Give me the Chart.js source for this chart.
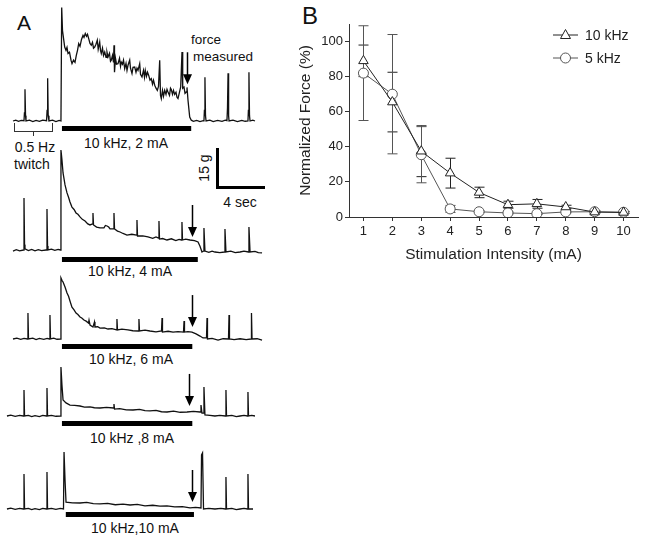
<!DOCTYPE html>
<html>
<head>
<meta charset="utf-8">
<script src="https://cdn.jsdelivr.net/npm/chart.js@4.4.1/dist/chart.umd.min.js"></script>
<style>
body { margin: 0; background: #fff; }
#fig { position: relative; width: 645px; height: 542px; overflow: hidden; font-family: "Liberation Sans", Arial, sans-serif; color: #111; }
#fig canvas { position: absolute; }
.lbl { position: absolute; transform: translate(-50%, -50%); white-space: nowrap; font-size: 14px; }
.left { transform: translate(0, -50%); }
.bar { position: absolute; background: #000; }
</style>
</head>
<body>
<div id="fig">
  <div class="lbl" style="left:24px;top:23px;font-size:21px;">A</div>
  <div class="lbl" style="left:310px;top:16px;font-size:24px;">B</div>

  <div class="lbl left" style="left:191px;top:39px;font-size:13.5px;">force</div>
  <div class="lbl left" style="left:193px;top:56px;font-size:13.5px;">measured</div>

  <div style="position:absolute;left:14px;top:123px;width:37px;height:8px;border:1px solid #333;border-top:none;"></div>
  <div style="position:absolute;left:33px;top:131px;width:1px;height:5px;background:#333;"></div>
  <div class="lbl" style="left:35px;top:147px;">0.5 Hz</div>
  <div class="lbl" style="left:32px;top:164px;">twitch</div>

  <div class="bar" style="left:216px;top:148px;width:3px;height:41px;"></div>
  <div class="bar" style="left:216px;top:186px;width:49px;height:3px;"></div>
  <div class="lbl" style="left:204px;top:168px;transform:translate(-50%,-50%) rotate(-90deg);">15 g</div>
  <div class="lbl" style="left:240px;top:202px;">4 sec</div>

  <div class="lbl" style="left:126px;top:143px;">10 kHz, 2 mA</div>
  <div class="lbl" style="left:130px;top:271px;">10 kHz, 4 mA</div>
  <div class="lbl" style="left:131px;top:359px;">10 kHz, 6 mA</div>
  <div class="lbl" style="left:132px;top:438px;">10 kHz ,8 mA</div>
  <div class="lbl" style="left:135px;top:528px;">10 kHz,10 mA</div>

  <canvas id="chartB" width="355" height="270" style="left:290px;top:0px;"></canvas>
</div>
<script>
// ---- panel B data ----
const intensity = [1, 2, 3, 4, 5, 6, 7, 8, 9, 10];
const yTicks = [0, 20, 40, 60, 80, 100];
const force10k = [89, 65.5, 37.5, 25, 14, 7, 7.5, 5.7, 2.8, 2.6];
const sem10k   = [9, 17, 14.5, 8.5, 3, 2, 2.5, 1, 0.5, 0.5];
const force5k  = [82, 70, 35.5, 4.6, 3.0, 2.3, 1.9, 2.9, 3.0, 2.7];
const sem5k    = [27, 34, 16, 2, 0.5, 0.5, 0.5, 0.5, 0.5, 0.5];

// ---- panel A traces: [time (s), force (g)] ----
const trace2mA = [[0,0],[0.25,0.3],[0.5,-0.1],[0.75,0.2],[1.0,0.1],[1.04,3],[1.09,11.9],[1.14,2],[1.18,0],[1.5,0.3],
  [1.8,-0.2],[2.1,0.2],[2.4,-0.1],[2.7,0.3],[3.05,0.1],[3.1,4],[3.15,16],[3.2,2],[3.27,0],[3.6,0.3],[3.9,-0.2],[4.2,0.2],
  [4.36,0],[4.427,42.6],[4.5,33.9],[4.7,27.75],[4.818,26.5],[4.909,27.6],[5.0,25.3],[5.136,25.8],[5.273,22.8],[5.364,21.5],
  [5.5,22.8],[5.636,22.0],[5.755,24.6],[5.864,26.5],[5.973,29.0],[6.091,28.0],[6.227,30.6],[6.364,32.1],[6.455,31.4],
  [6.573,32.8],[6.682,31.8],[6.773,32.5],[6.882,30.9],[7.0,29.1],[7.118,28.4],[7.227,29.5],[7.318,27.3],[7.427,27.75],
  [7.545,28.8],[7.664,30.3],[7.745,26.9],[7.882,29.6],[7.955,26.5],[8.027,25.3],[8.136,27.3],[8.227,24.6],[8.336,25.9],
  [8.455,23.9],[8.545,25.8],[8.636,24.0],[8.773,25.4],[8.864,22.4],[8.936,22.8],[9.045,24.6],[9.136,22.0],[9.182,28.4],
  [9.227,18.3],[9.318,23.5],[9.409,21.3],[9.545,21.5],[9.682,23.5],[9.773,20.5],[9.845,22.1],[9.955,21.3],[10.045,22.8],
  [10.155,19.65],[10.273,21.6],[10.364,19.0],[10.455,20.9],[10.609,22.8],[10.682,19.8],[10.818,17.8],[10.909,20.1],
  [11.064,20.25],[11.182,18.3],[11.273,19.8],[11.364,19.0],[11.518,21.5],[11.591,17.5],[11.727,16.5],[11.864,19.0],
  [11.955,16.4],[12.027,19.0],[12.136,16.8],[12.227,18.3],[12.336,17.1],[12.455,15.3],[12.573,15.9],[12.682,13.8],
  [12.773,15.3],[12.882,13.4],[13.0,12.3],[13.118,11.5],[13.227,13.0],[13.336,22.8],[13.409,9.6],[13.482,8.4],[13.591,11.5],
  [13.682,9.3],[13.791,11.5],[13.909,10.0],[14.0,11.9],[14.091,10.9],[14.227,9.6],[14.318,12.3],[14.391,11.8],[14.5,10.0],
  [14.591,11.5],[14.7,10.0],[14.818,10.8],[14.909,8.9],[15.0,8.4],[15.136,10.8],[15.245,12.75],[15.364,25.9],[15.427,12.3],
  [15.545,12.75],[15.636,10.4],[15.755,10.9],[15.818,12.6],[15.909,7.8],[16.064,1.5],[16.209,0.3],[16.4,-0.1],[16.7,0.2],
  [17.0,-0.2],[17.3,0.1],[17.36,0.2],[17.4,4],[17.45,16.4],[17.5,2],[17.55,0],[17.9,0.3],[18.2,-0.2],[18.6,0.2],[19.0,-0.1],
  [19.3,0.3],[19.45,0.1],[19.5,5],[19.55,17.9],[19.6,2],[19.64,0],[20.0,0.3],[20.4,-0.2],[20.8,0.2],[21.1,-0.1],[21.36,0],
  [21.4,4],[21.45,18.3],[21.5,2],[21.55,0],[21.8,0.3],[22.0,0]];
const trace4mA = [[0,-0.4],[0.3,0.1],[0.6,-0.3],[0.95,0],[1.0,19.5],[1.05,2],[1.09,0.4],[1.4,-0.2],[1.7,0.2],[2.0,-0.3],
  [2.3,0.1],[2.6,-0.2],[3.0,0],[3.09,15.4],[3.14,1.5],[3.18,0],[3.5,0.3],[3.8,-0.1],[4.1,0.2],[4.32,0],
  [4.36,37.5],[4.45,33.8],[4.55,28.9],[4.73,24.4],[4.91,21.4],[5.05,19.8],[5.18,18],[5.36,16.1],[5.55,15.2],[5.73,13.9],
  [5.9,13.4],[6.09,12.4],[6.3,11.5],[6.55,10.9],[6.8,9.8],[7.0,9.4],[7.23,9.75],[7.27,13.9],[7.32,9.4],[7.6,8.6],[7.91,8.3],
  [8.27,8.3],[8.4,9.2],[8.55,9.0],[8.7,8.6],[8.82,7.9],[9.14,7.9],[9.18,13.9],[9.23,7.9],[9.5,7.1],[9.73,6.75],[10.0,6.2],
  [10.36,5.6],[10.8,5.9],[11.23,5.6],[11.27,11.25],[11.32,5.25],[11.8,5.3],[12.27,4.9],[12.7,4.4],[13.0,4.9],[13.23,4.5],
  [13.27,10.9],[13.32,4.1],[13.6,4.3],[14.0,3.75],[14.4,4.2],[14.8,3.5],[15.1,4.0],[15.32,3.75],[15.36,10.5],[15.41,3.75],
  [15.7,4.1],[16.09,3.75],[16.5,3.5],[16.82,3.0],[17.0,1.4],[17.18,-0.75],[17.32,-0.4],[17.36,8.25],[17.45,-0.4],
  [17.8,-0.9],[18.1,-0.4],[18.36,-0.75],[18.8,-1.0],[19.23,-0.75],[19.27,7.9],[19.36,-0.75],[19.8,-0.4],[20.2,-1.0],
  [20.64,-0.75],[21.0,-0.4],[21.41,-0.75],[21.45,8.6],[21.55,-0.75],[22.0,-0.5],[22.3,-1.0],[22.64,-1.1]];
const trace6mA = [[0,0],[0.35,0.3],[0.7,-0.1],[1.0,0.2],[1.32,0],[1.36,9.75],[1.41,0],[1.8,0.3],[2.1,-0.2],[2.4,0.2],
  [2.8,-0.1],[3.1,0.2],[3.32,0],[3.36,9.0],[3.41,0],[3.7,0.3],[4.0,-0.1],[4.32,0],
  [4.36,22.9],[4.45,22.0],[4.55,21.4],[4.73,19.5],[4.91,17.25],[5.05,16.0],[5.18,14.25],[5.36,11.9],[5.55,10.9],[5.73,9.75],
  [5.9,9.2],[6.09,8.25],[6.25,7.9],[6.45,7.1],[6.65,6.7],[6.86,6.0],[6.91,7.1],[7.0,5.25],[7.27,4.5],[7.41,6.4],[7.45,4.5],
  [7.7,4.6],[7.91,4.1],[8.3,4.2],[8.64,3.75],[9.0,3.9],[9.41,3.4],[9.45,7.5],[9.5,3.4],[9.9,3.7],[10.45,3.4],[10.9,3.1],
  [11.41,3.0],[11.45,7.5],[11.5,3.0],[12.0,3.3],[12.45,3.0],[13.0,2.7],[13.5,3.0],[13.55,7.9],[13.59,2.6],[14.1,2.9],
  [14.55,2.6],[15.0,2.8],[15.5,2.6],[15.55,6.75],[15.59,2.6],[15.9,2.8],[16.27,2.6],[16.64,1.9],[17.0,1.1],[17.27,0.4],
  [17.59,0.4],[17.64,7.9],[17.68,0],[18.1,0.2],[18.64,-0.4],[19.1,0.1],[19.59,0],[19.64,9.0],[19.68,0],[20.1,-0.2],
  [20.64,0.1],[21.2,-0.2],[21.64,0],[21.68,9.75],[21.73,0],[22.2,0.1],[22.64,-0.4]];
const trace8mA = [[-0.55,0],[-0.2,0.3],[0.2,-0.1],[0.6,0.2],[0.95,0],[1.0,9.75],[1.05,0],[1.4,0.2],[1.7,-0.2],[2.0,0.1],
  [2.4,-0.2],[2.7,0.2],[3.05,0],[3.09,10.5],[3.14,0],[3.5,0.2],[3.9,-0.1],[4.32,0],
  [4.36,18.4],[4.45,11.6],[4.55,6.0],[4.82,4.9],[5.18,4.1],[5.6,4.0],[6.09,3.75],[6.5,3.3],[7.0,3.4],[7.4,3.1],[7.91,3.0],
  [8.5,3.2],[9.14,3.0],[9.18,4.5],[9.23,2.6],[9.7,2.8],[10.3,2.3],[10.91,2.25],[11.5,2.5],[12.0,2.0],[12.45,1.9],[13.0,2.1],
  [13.5,1.6],[14.0,1.5],[14.6,1.8],[15.2,1.4],[15.82,1.5],[16.4,1.7],[17.0,1.5],[17.09,4.1],[17.18,1.1],[17.32,1.1],
  [17.36,10.9],[17.45,0.4],[17.9,0.2],[18.36,0],[18.8,0.2],[19.32,0],[19.36,9.75],[19.41,0],[19.9,0.2],[20.3,-0.2],
  [20.64,0],[21.0,0.2],[21.32,0],[21.36,9.0],[21.41,0],[21.7,0.2],[22.0,0]];
const trace10mA = [[-0.55,0],[-0.2,0.3],[0.2,-0.1],[0.6,0.2],[0.95,0],[1.0,13.1],[1.05,0],[1.4,0.2],[1.7,-0.2],[2.0,0.1],
  [2.4,-0.2],[2.7,0.2],[3.05,0],[3.09,13.9],[3.14,0],[3.5,0.2],[3.9,-0.1],[4.3,0.2],[4.59,0],
  [4.64,21.4],[4.73,10.9],[4.82,2.6],[5.4,2.3],[6.09,2.25],[6.7,2.5],[7.3,2.0],[7.91,1.9],[8.6,2.1],[9.3,1.6],[10.0,1.8],
  [10.64,1.5],[11.3,1.7],[12.0,1.2],[12.7,1.4],[13.36,1.1],[14.0,1.2],[14.7,0.8],[15.4,0.9],[16.09,0.4],[16.6,0.6],
  [17.09,0.4],[17.14,20.25],[17.23,21.0],[17.32,0],[17.8,0.2],[18.36,0],[18.9,0.2],[19.32,0],[19.36,12.0],[19.41,0],
  [19.9,0.2],[20.3,-0.2],[20.64,0],[21.0,0.2],[21.32,0],[21.36,13.1],[21.41,0],[21.82,0]];

const traces = [trace2mA, trace4mA, trace6mA, trace8mA, trace10mA];
const stimOn  = [4.45, 4.45, 4.45, 4.45, 4.8];
const stimOff = [16.2, 16.8, 16.3, 16.3, 16.45];
const arrowTime  = [15.82, 16.27, 16.27, 16.0, 16.27];
const arrowForce = [13.4, 4.5, 4.1, 3.4, 2.25];

// layout of the trace canvases (pixels)
const traceBase = [120.7, 250, 339, 416, 509];
const stimGap = [5, 7, 5, 5, 3];

Chart.defaults.font.family = '"Liberation Sans", Arial, sans-serif';
Chart.defaults.color = '#222';

const traceMarks = {
  id: 'traceMarks',
  afterDatasetsDraw(chart, args, opts) {
    const {ctx, scales: {x, y}} = chart;
    const y0 = y.getPixelForValue(0);
    const x1 = x.getPixelForValue(opts.on), x2 = x.getPixelForValue(opts.off);
    ctx.save();
    ctx.fillStyle = '#000';
    ctx.fillRect(x1, y0 + opts.gap, x2 - x1, 5);
    const ax = Math.round(x.getPixelForValue(opts.arrowT)) + 0.5;
    const tip = y.getPixelForValue(opts.arrowF) - 1;
    ctx.strokeStyle = '#000';
    ctx.lineWidth = 1.5;
    ctx.beginPath(); ctx.moveTo(ax, tip - 32); ctx.lineTo(ax, tip - 8); ctx.stroke();
    ctx.beginPath(); ctx.moveTo(ax - 4.5, tip - 10); ctx.lineTo(ax + 4.5, tip - 10); ctx.lineTo(ax, tip); ctx.closePath(); ctx.fill();
    ctx.restore();
  }
};

const fig = document.getElementById('fig');
traces.forEach((tr, k) => {
  const c = document.createElement('canvas');
  c.width = 270; c.height = 140;
  c.style.left = '0px';
  c.style.top = (traceBase[k] - 125) + 'px';
  fig.appendChild(c);
  new Chart(c, {
    type: 'line',
    data: { datasets: [{ data: tr.map(p => ({x: p[0], y: p[1]})), borderColor: '#111', borderWidth: 1.3, pointRadius: 0, tension: 0 }] },
    options: {
      responsive: false, animation: false, events: [],
      layout: { padding: 0, autoPadding: false },
      plugins: { legend: { display: false }, tooltip: { enabled: false },
        traceMarks: { on: stimOn[k], off: stimOff[k], gap: stimGap[k], arrowT: arrowTime[k], arrowF: arrowForce[k] } },
      scales: {
        x: { type: 'linear', display: false, min: -13 / 11, max: 257 / 11 },
        y: { display: false, min: -5.625, max: 46.875 }
      }
    },
    plugins: [traceMarks]
  });
});

// error bars and legend for panel B
const errorBars = {
  id: 'errorBars',
  beforeDatasetsDraw(chart) {
    const {ctx, scales: {x, y}} = chart;
    ctx.save();
    chart.data.datasets.forEach(ds => {
      ctx.strokeStyle = ds.borderColor;
      ctx.lineWidth = 1;
      ds.data.forEach((p, i) => {
        const px = Math.round(x.getPixelForValue(p.x)) + 0.5;
        const hi = y.getPixelForValue(p.y + ds.sem[i]);
        const lo = y.getPixelForValue(p.y - ds.sem[i]);
        ctx.beginPath();
        ctx.moveTo(px, hi); ctx.lineTo(px, lo);
        ctx.moveTo(px - 5, hi); ctx.lineTo(px + 5, hi);
        ctx.moveTo(px - 5, lo); ctx.lineTo(px + 5, lo);
        ctx.stroke();
      });
    });
    ctx.restore();
  },
  afterDraw(chart) {
    const ctx = chart.ctx;
    ctx.save();
    ctx.font = '14px "Liberation Sans", Arial, sans-serif';
    ctx.textBaseline = 'middle';
    chart.data.datasets.forEach((ds, i) => {
      const yy = 35 + i * 23;
      ctx.strokeStyle = ds.borderColor;
      ctx.lineWidth = 1;
      ctx.beginPath(); ctx.moveTo(263, yy); ctx.lineTo(288, yy); ctx.stroke();
      ctx.fillStyle = '#fff';
      ctx.beginPath();
      if (ds.pointStyle === 'triangle') {
        ctx.moveTo(275.5, yy - 5.5); ctx.lineTo(280.5, yy + 3.5); ctx.lineTo(270.5, yy + 3.5); ctx.closePath();
      } else {
        ctx.arc(275.5, yy, 5, 0, Math.PI * 2);
      }
      ctx.fill(); ctx.stroke();
      ctx.fillStyle = '#222';
      ctx.fillText(ds.label, 295, yy + 1);
    });
    ctx.restore();
  }
};

new Chart(document.getElementById('chartB'), {
  type: 'line',
  data: {
    datasets: [
      { label: '10 kHz', data: intensity.map((v, i) => ({x: v, y: force10k[i]})), sem: sem10k,
        borderColor: '#222', borderWidth: 1, pointStyle: 'triangle', pointRadius: 5.5,
        pointBackgroundColor: '#fff', pointBorderColor: '#222', pointBorderWidth: 1, tension: 0 },
      { label: '5 kHz', data: intensity.map((v, i) => ({x: v, y: force5k[i]})), sem: sem5k,
        borderColor: '#555', borderWidth: 1, pointStyle: 'circle', pointRadius: 5,
        pointBackgroundColor: '#fff', pointBorderColor: '#555', pointBorderWidth: 1, tension: 0 }
    ]
  },
  options: {
    responsive: false, animation: false, events: [],
    layout: { padding: { left: 0, right: 7, top: 24, bottom: 0 }, autoPadding: false },
    plugins: { legend: { display: false }, tooltip: { enabled: false } },
    scales: {
      x: {
        type: 'linear', min: 0.5, max: 10.5,
        afterBuildTicks: s => { s.ticks = intensity.map(v => ({value: v})); },
        afterFit: s => { s.height = 53; },
        grid: { drawOnChartArea: false, tickLength: 4, color: '#333' },
        border: { color: '#333', width: 1 },
        ticks: { font: { size: 13 }, padding: 3, maxRotation: 0, autoSkip: false },
        title: { display: true, text: 'Stimulation Intensity (mA)', font: { size: 15.5 }, padding: { top: 0, bottom: 6 } }
      },
      y: {
        min: 0, max: 110,
        afterBuildTicks: s => { s.ticks = yTicks.map(v => ({value: v})); },
        afterFit: s => { s.width = 59; },
        grid: { drawOnChartArea: false, tickLength: 4, color: '#333' },
        border: { color: '#333', width: 1 },
        ticks: { font: { size: 13 }, padding: 2 },
        title: { display: true, text: 'Normalized Force (%)', font: { size: 15.5 }, padding: { top: 6, bottom: 0 } }
      }
    }
  },
  plugins: [errorBars]
});
</script>
</body>
</html>
